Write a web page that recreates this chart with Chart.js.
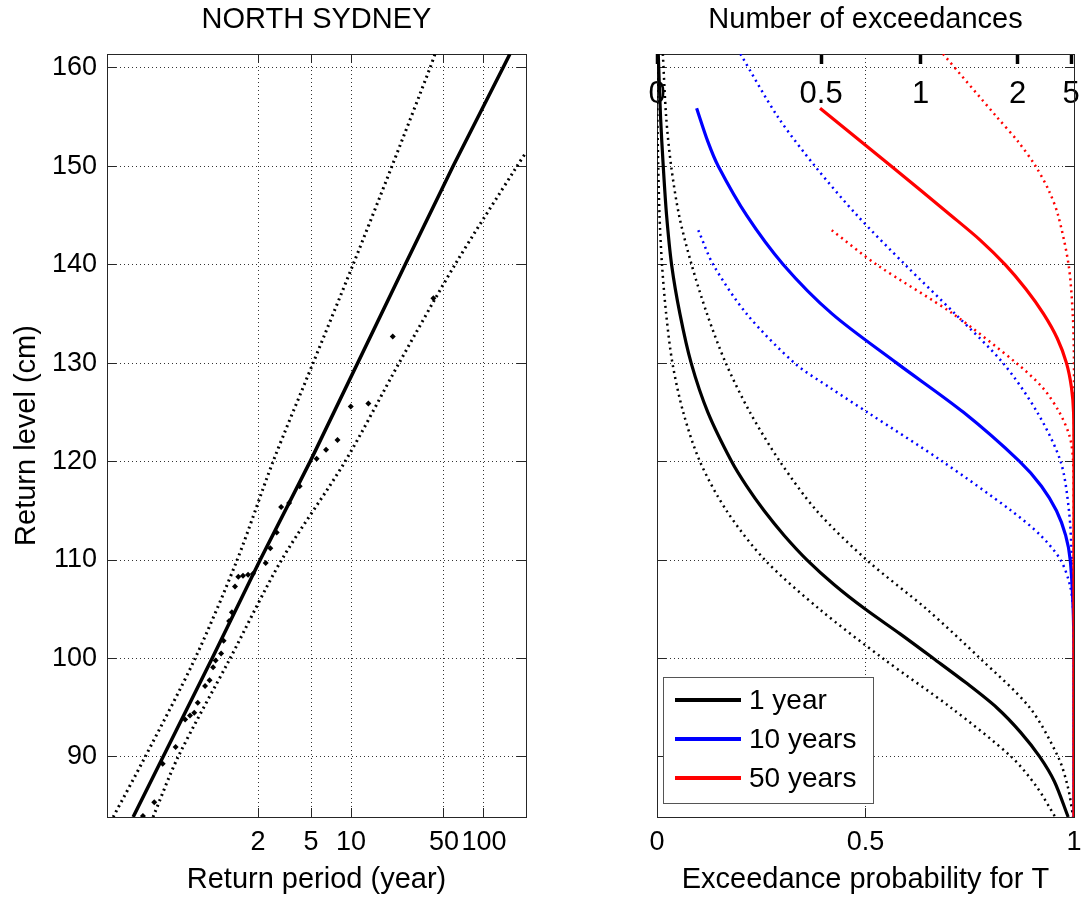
<!DOCTYPE html>
<html>
<head>
<meta charset="utf-8">
<script src="https://cdn.jsdelivr.net/npm/chart.js@4.4.1/dist/chart.umd.min.js"></script>
<style>
html,body{margin:0;padding:0;background:#fff;}
#wrap{position:relative;width:1091px;height:901px;overflow:hidden;background:#fff;}
.pane{position:absolute;top:0;}
</style>
</head>
<body>
<div id="wrap">
  <div class="pane" style="left:0;width:545px;height:901px"><canvas id="left" width="545" height="901"></canvas></div>
  <div class="pane" style="left:545px;width:546px;height:901px"><canvas id="right" width="546" height="901"></canvas></div>
</div>
<script>
// ================= DATA : left panel (return level plot) =================
const leftTitle = 'NORTH SYDNEY';
const periodAxisTitle = 'Return period (year)';
const levelAxisTitle = 'Return level (cm)';
const periodMin = 0.146, periodMax = 207;
const levelMin = 83.9, levelMax = 161.4;
const periodTicks = [2, 5, 10, 50, 100];
const levelTicks = [90, 100, 110, 120, 130, 140, 150, 160];

// empirical points (return period in years, level in cm)
const obsPeriod = [41.6, 20.6, 13.5, 9.95, 7.91, 6.49, 5.51, 4.11, 3.42, 2.98, 2.76, 2.47, 2.28,
  1.83, 1.68, 1.54, 1.42, 1.34, 1.27, 1.21, 1.10, 1.054, 0.958, 0.917, 0.863, 0.798,
  0.703, 0.662, 0.615, 0.565, 0.479, 0.383, 0.331, 0.272];
const obsLevel = [136.6, 132.7, 125.9, 125.6, 122.2, 121.2, 120.3, 117.5, 115.8, 115.4, 112.8, 111.2, 109.7,
  108.6, 108.5, 108.4, 108.3, 107.3, 104.7, 103.8, 101.8, 100.5, 99.8, 99.1, 97.8, 97.2,
  95.5, 94.5, 94.2, 93.8, 91.0, 89.3, 85.4, 84.0];

// fitted return level line
const fitPeriod = [0.2296, 0.385, 0.901, 2.07, 4.92, 25.5, 58.5, 139, 156.7];
const fitLevel  = [83.9, 90, 100, 110, 120, 140, 150, 160, 161.4];
// confidence bounds
const upperPeriod = [0.1625, 0.2825, 0.671, 1.39, 2.59, 5.18, 10.35, 20.3, 39.3, 42.8];
const upperLevel  = [83.9, 90, 100, 110, 120, 130, 140, 150, 160, 161.4];
const lowerPeriod = [0.324, 0.500, 1.23, 3.0, 9.01, 22.96, 60.5, 177, 207];
const lowerLevel  = [83.9, 90, 100, 110, 120, 130, 140, 150, 151.4];

// ================= DATA : right panel (exceedance probability) =================
const rightTitle = 'Number of exceedances';
const probAxisTitle = 'Exceedance probability for T';
const probTicks = [0, 0.5, 1];
const probTickLabels = ['0', '0.5', '1'];
const exceedCounts = [0, 0.5, 1, 2, 5];
const exceedLabels = ['0', '0.5', '1', '2', '5'];
const legendLabels = ['1 year', '10 years', '50 years'];

// 1 year
const y1Level = [161.4, 155, 150, 145, 140, 135, 130, 125, 120, 117.5, 115, 112.5, 110, 107.5, 105, 102.5, 100, 97.5, 95, 92.5, 90, 87.5, 83.9];
const y1Prob  = [0.003, 0.0085, 0.015, 0.023, 0.035, 0.055, 0.082, 0.122, 0.179, 0.215, 0.257, 0.305, 0.36, 0.425, 0.5, 0.583, 0.663, 0.742, 0.815, 0.872, 0.918, 0.953, 0.986];
const y1BandLevel = [161.4, 155, 150, 145, 140, 135, 130, 125, 120, 115, 110, 105, 100, 95, 90, 87, 83.9];
const y1LowProb  = [0.0005, 0.001, 0.003, 0.006, 0.012, 0.022, 0.037, 0.063, 0.103, 0.167, 0.259, 0.39, 0.542, 0.705, 0.85, 0.91, 0.955];
const y1HighProb = [0.014, 0.022, 0.034, 0.053, 0.083, 0.12, 0.165, 0.223, 0.295, 0.383, 0.503, 0.647, 0.775, 0.894, 0.962, 0.985, 0.998];

// 10 years
const y10Level = [155.9, 152.5, 150, 145, 140, 135, 130, 125, 120, 117.5, 115, 112.5, 110, 105, 100, 90, 83.9];
const y10Prob  = [0.095, 0.122, 0.147, 0.215, 0.303, 0.42, 0.575, 0.735, 0.87, 0.922, 0.958, 0.98, 0.991, 0.998, 1, 1, 1];
const y10HighLevel = [161.4, 155, 150, 145, 140, 135, 130, 125, 120, 115, 110, 105, 100, 83.9];
const y10HighProb  = [0.20, 0.29, 0.379, 0.48, 0.595, 0.715, 0.83, 0.912, 0.968, 0.988, 0.995, 0.999, 1, 1];
const y10LowLevel = [143.5, 140, 135, 130, 127.5, 125, 120, 115, 112.5, 110, 107.5, 105, 100, 83.9];
const y10LowProb  = [0.099, 0.135, 0.215, 0.33, 0.415, 0.505, 0.685, 0.85, 0.92, 0.968, 0.99, 0.998, 1, 1];

// 50 years
const y50Level = [155.9, 150, 145, 142.5, 140, 137.5, 135, 132.5, 130, 127.5, 125, 120, 110, 100, 90, 83.9];
const y50Prob  = [0.391, 0.562, 0.705, 0.775, 0.835, 0.885, 0.927, 0.96, 0.982, 0.994, 0.999, 1, 1, 1, 1, 1];
const y50HighLevel = [161.4, 155, 152.5, 150, 147.5, 145, 140, 135, 130, 120, 110, 100, 83.9];
const y50HighProb  = [0.686, 0.815, 0.866, 0.908, 0.94, 0.962, 0.987, 0.997, 1, 1, 1, 1, 1];
const y50LowLevel = [143.5, 140, 135, 130, 127.5, 125, 122.5, 120, 115, 110, 100, 83.9];
const y50LowProb  = [0.419, 0.527, 0.71, 0.862, 0.925, 0.965, 0.99, 0.998, 1, 1, 1, 1];

// ================= STYLE =================
const FONT = "'Liberation Sans', Arial, Helvetica, sans-serif";
const INK = '#000000';
const GRID = 'rgba(0,0,0,0.8)';
const FRAME = '#262626';
const BLUE = '#0000ff';
const RED = '#ff0000';
const legendColors = [INK, BLUE, RED];

function pts(xs, ys) { return xs.map((x, i) => ({x: x, y: ys[i]})); }
function fixedTicks(values) { return (scale) => { scale.ticks = values.map(v => ({value: v})); }; }
function fixHeight(h) { return (s) => { s.height = h; s.paddingLeft = 0; s.paddingRight = 0; }; }
function fixWidth(w) { return (s) => { s.width = w; s.paddingTop = 0; s.paddingBottom = 0; }; }
function gridOpts(onArea) {
  return { display: true, drawOnChartArea: onArea, drawTicks: true, color: GRID, lineWidth: 1,
           tickLength: -9, tickColor: FRAME, tickWidth: 1, tickBorderDash: [] };
}
const borderOpts = { display: true, color: FRAME, width: 1, dash: [1, 3] };
const tickFont = { family: FONT, size: 27 };
const titleFont = { family: FONT, size: 29 };

function solid(label, data, color, width, order) {
  return { label, data, showLine: true, borderColor: color, backgroundColor: color, borderWidth: width,
           pointRadius: 0, tension: 0.3, fill: false, order };
}
function dotted(label, data, color, width, order) {
  return { label, data, showLine: true, borderColor: color, backgroundColor: color, borderWidth: width,
           borderDash: [2, 4], borderCapStyle: 'butt', pointRadius: 0, tension: 0.3, fill: false, order };
}

Chart.defaults.font.family = FONT;
Chart.defaults.color = INK;

// ================= LEFT CHART =================
new Chart(document.getElementById('left'), {
  type: 'scatter',
  data: { datasets: [
    { label: 'Observed', data: pts(obsPeriod, obsLevel), showLine: false, pointStyle: 'rectRot',
      pointRadius: 3, pointBorderWidth: 0, backgroundColor: INK, borderColor: INK, order: 0 },
    Object.assign(solid('Fit', pts(fitPeriod, fitLevel), INK, 3.5, 1), { tension: 0 }),
    Object.assign(dotted('Upper bound', pts(upperPeriod, upperLevel), INK, 3, 2), { borderDash: [2, 3.7] }),
    Object.assign(dotted('Lower bound', pts(lowerPeriod, lowerLevel), INK, 3, 3), { borderDash: [2, 3.7] })
  ]},
  options: {
    responsive: false, animation: false, devicePixelRatio: 1,
    layout: { padding: { left: 0, right: 19, top: 0, bottom: 0 } },
    plugins: { legend: { display: false }, tooltip: { enabled: false }, title: { display: false } },
    scales: {
      x: { type: 'logarithmic', position: 'bottom', min: periodMin, max: periodMax,
           afterBuildTicks: fixedTicks(periodTicks), afterFit: fixHeight(84),
           ticks: { autoSkip: false, maxRotation: 0, minRotation: 0, padding: 18, color: INK, font: tickFont,
                    callback: v => String(v) },
           grid: gridOpts(true), border: borderOpts,
           title: { display: true, text: periodAxisTitle, color: INK, font: titleFont, padding: { top: 0, bottom: 4 } } },
      xTop: { type: 'logarithmic', position: 'top', axis: 'x', min: periodMin, max: periodMax,
           afterBuildTicks: fixedTicks(periodTicks), afterFit: fixHeight(54),
           ticks: { display: false, autoSkip: false },
           grid: gridOpts(false), border: borderOpts,
           title: { display: true, text: leftTitle, color: INK, font: titleFont, padding: { top: 3, bottom: 0 } } },
      y: { type: 'linear', position: 'left', min: levelMin, max: levelMax,
           afterBuildTicks: fixedTicks(levelTicks), afterFit: fixWidth(107),
           ticks: { autoSkip: false, padding: 19, color: INK, font: tickFont },
           grid: gridOpts(true), border: borderOpts,
           title: { display: true, text: levelAxisTitle, color: INK, font: titleFont, padding: { top: 10, bottom: 0 } } },
      yRight: { type: 'linear', position: 'right', axis: 'y', min: levelMin, max: levelMax,
           afterBuildTicks: fixedTicks(levelTicks), afterFit: fixWidth(0),
           ticks: { display: false },
           grid: gridOpts(false), border: borderOpts }
    }
  }
});

// ================= RIGHT CHART =================
const boxLegend = {
  id: 'boxLegend',
  afterDatasetsDraw(chart, args, o) {
    const { ctx, chartArea } = chart;
    const x0 = chartArea.left + o.offsetX;
    const y0 = chartArea.bottom - o.offsetY - o.height;
    ctx.save();
    ctx.fillStyle = '#ffffff';
    ctx.fillRect(x0, y0, o.width, o.height);
    ctx.strokeStyle = '#555555';
    ctx.lineWidth = 1;
    ctx.strokeRect(x0 + 0.5, y0 + 0.5, o.width, o.height);
    ctx.font = o.fontSize + 'px ' + FONT;
    ctx.textBaseline = 'middle';
    ctx.textAlign = 'left';
    legendLabels.forEach((lab, i) => {
      const yy = y0 + o.firstRow + i * o.rowGap;
      ctx.strokeStyle = legendColors[i];
      ctx.lineWidth = 4;
      ctx.setLineDash([]);
      ctx.beginPath();
      ctx.moveTo(x0 + o.lineStart, yy);
      ctx.lineTo(x0 + o.lineEnd, yy);
      ctx.stroke();
      ctx.fillStyle = INK;
      ctx.fillText(lab, x0 + o.textX, yy + 1);
    });
    ctx.restore();
  }
};

new Chart(document.getElementById('right'), {
  type: 'scatter',
  data: { datasets: [
    solid('50 years', pts(y50Prob, y50Level), RED, 3.2, 0),
    dotted('50 years upper', pts(y50HighProb, y50HighLevel), RED, 2.5, 1),
    dotted('50 years lower', pts(y50LowProb, y50LowLevel), RED, 2.5, 2),
    solid('10 years', pts(y10Prob, y10Level), BLUE, 3.2, 3),
    dotted('10 years upper', pts(y10HighProb, y10HighLevel), BLUE, 2.5, 4),
    dotted('10 years lower', pts(y10LowProb, y10LowLevel), BLUE, 2.5, 5),
    solid('1 year', pts(y1Prob, y1Level), INK, 3.2, 6),
    dotted('1 year upper', pts(y1HighProb, y1BandLevel), INK, 2.5, 7),
    dotted('1 year lower', pts(y1LowProb, y1BandLevel), INK, 2.5, 8)
  ]},
  plugins: [boxLegend],
  options: {
    responsive: false, animation: false, devicePixelRatio: 1,
    layout: { padding: { left: 0, right: 17, top: 0, bottom: 0 } },
    plugins: {
      legend: { display: false }, tooltip: { enabled: false }, title: { display: false },
      boxLegend: { offsetX: 6, offsetY: 14, width: 210, height: 126, firstRow: 23, rowGap: 39,
                   lineStart: 12, lineEnd: 78, textX: 86, fontSize: 28 }
    },
    scales: {
      x: { type: 'linear', position: 'bottom', min: 0, max: 1,
           afterBuildTicks: fixedTicks(probTicks), afterFit: fixHeight(84),
           ticks: { autoSkip: false, maxRotation: 0, minRotation: 0, padding: 18, color: INK, font: tickFont,
                    callback: (v, i) => probTickLabels[i] },
           grid: gridOpts(true), border: borderOpts,
           title: { display: true, text: probAxisTitle, color: INK, font: titleFont, padding: { top: 0, bottom: 4 } } },
      xTop: { type: 'linear', position: 'top', axis: 'x', min: 0, max: 1,
           afterBuildTicks: s => { s.ticks = exceedCounts.map(n => ({ value: 1 - Math.exp(-n) })); },
           afterFit: fixHeight(54),
           ticks: { autoSkip: false, maxRotation: 0, minRotation: 0, mirror: true, padding: 22, color: INK,
                    font: { family: FONT, size: 31 }, callback: (v, i) => exceedLabels[i] },
           grid: { display: true, drawOnChartArea: false, drawTicks: true, tickLength: -10,
                   tickColor: INK, tickWidth: 3.5, tickBorderDash: [] },
           border: borderOpts,
           title: { display: true, text: rightTitle, color: INK, font: titleFont, padding: { top: 3, bottom: 0 } } },
      y: { type: 'linear', position: 'left', min: levelMin, max: levelMax,
           afterBuildTicks: fixedTicks(levelTicks), afterFit: fixWidth(112),
           ticks: { display: false },
           grid: gridOpts(true), border: borderOpts },
      yRight: { type: 'linear', position: 'right', axis: 'y', min: levelMin, max: levelMax,
           afterBuildTicks: fixedTicks(levelTicks), afterFit: fixWidth(0),
           ticks: { display: false },
           grid: gridOpts(false), border: borderOpts }
    }
  }
});
</script>
</body>
</html>
